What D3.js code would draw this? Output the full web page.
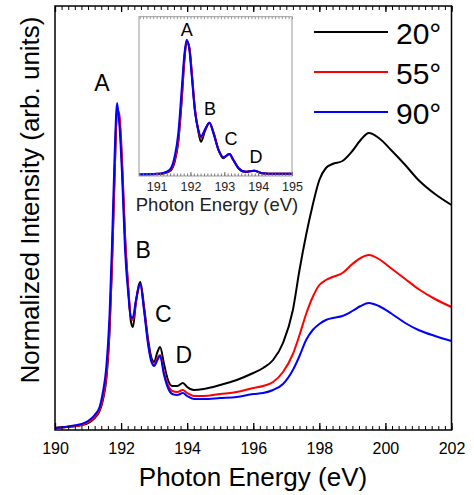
<!DOCTYPE html>
<html><head><meta charset="utf-8">
<script src="https://cdn.jsdelivr.net/npm/d3@7"></script>
<style>
html,body{margin:0;padding:0;background:#fff;}
svg{display:block;font-family:"Liberation Sans",Arial,sans-serif;}
</style></head><body>
<svg id="c" width="474" height="495"></svg>
<script>
// ---------- data ----------
const energy = [190.0,190.5,190.8,191.0,191.2,191.35,191.45,191.55,191.65,191.72,191.8,191.88,191.95,192.03,192.12,192.22,192.3,192.36,192.45,192.58,192.7,192.82,192.92,193.0,193.1,193.18,193.3,193.42,193.55,193.7,193.87,194.0,194.2,194.5,195.0,195.5,196.0,196.3,196.6,196.9,197.2,197.4,197.6,197.8,198.0,198.2,198.4,198.7,199.0,199.25,199.5,199.8,200.2,200.6,201.0,201.5,202.0];
const deg20 = [0.02,0.035,0.05,0.07,0.12,0.19,0.30,0.50,0.98,1.6,2.5,3.2,3.1,2.65,1.92,1.40,1.08,1.03,1.28,1.48,1.22,0.90,0.72,0.68,0.78,0.83,0.66,0.50,0.44,0.44,0.47,0.43,0.40,0.41,0.45,0.50,0.57,0.62,0.70,0.87,1.20,1.60,1.95,2.25,2.50,2.62,2.66,2.69,2.79,2.90,2.97,2.92,2.79,2.65,2.50,2.36,2.25];
const deg55 = [0.02,0.035,0.05,0.075,0.13,0.20,0.32,0.52,1.0,1.6,2.5,3.2,3.15,2.7,1.95,1.42,1.12,1.10,1.28,1.46,1.20,0.87,0.69,0.65,0.72,0.75,0.57,0.45,0.39,0.38,0.40,0.37,0.34,0.34,0.36,0.38,0.42,0.44,0.48,0.58,0.76,0.95,1.16,1.33,1.45,1.50,1.53,1.57,1.66,1.72,1.75,1.71,1.61,1.51,1.41,1.31,1.23];
const deg90 = [0.02,0.04,0.06,0.09,0.15,0.23,0.38,0.62,1.15,1.8,2.7,3.27,3.05,2.55,1.8,1.35,1.12,1.13,1.30,1.46,1.18,0.85,0.68,0.64,0.70,0.74,0.55,0.42,0.36,0.35,0.37,0.34,0.31,0.31,0.32,0.33,0.36,0.37,0.40,0.46,0.60,0.74,0.90,1.00,1.06,1.10,1.12,1.14,1.19,1.24,1.27,1.24,1.16,1.07,1.00,0.94,0.89];

const insetEnergy = [190.48,191.0,191.2,191.39,191.54,191.64,191.74,191.82,191.89,191.97,192.04,192.13,192.23,192.31,192.43,192.56,192.68,192.83,192.97,193.15,193.27,193.42,193.62,193.88,194.11,194.5,195.0];
const inset20 = [0,0.003,0.008,0.024,0.10,0.24,0.54,0.84,0.98,0.93,0.74,0.48,0.32,0.24,0.32,0.38,0.31,0.18,0.12,0.15,0.105,0.046,0.02,0.028,0.01,0.005,0.005];
const inset55 = [0,0.004,0.01,0.028,0.11,0.25,0.55,0.84,0.98,0.93,0.75,0.49,0.33,0.27,0.33,0.38,0.31,0.18,0.125,0.15,0.105,0.046,0.02,0.028,0.01,0.005,0.005];
const inset90 = [0,0.005,0.012,0.035,0.14,0.30,0.62,0.88,0.99,0.91,0.72,0.47,0.33,0.28,0.33,0.38,0.30,0.18,0.126,0.15,0.106,0.046,0.02,0.028,0.01,0.005,0.005];

const seriesNames = ["20°","55°","90°"];
const seriesColors = ["#000000","#ff0000","#0000ff"];
const xTicks = [190,192,194,196,198,200,202];
const insetTicks = [191,192,193,194,195];
const peakLabels = ["A","B","C","D"];
const peakLabelPos = [[191.42,3.39],[192.67,1.72],[193.28,1.08],[193.9,0.67]];
const insetLabelPos = [[191.89,1.02],[192.58,0.44],[193.2,0.22],[193.94,0.082]];

// ---------- main ----------
const svg = d3.select("#c");
const W = {l:55,r:451.5,t:6,b:430};
const x = d3.scaleLinear().domain([190,202]).range([W.l,W.r]);
const y = d3.scaleLinear().domain([0,4.24]).range([W.b,W.t]);

const line = d3.line().x(d=>x(d[0])).y(d=>y(d[1])).curve(d3.curveMonotoneX);
const mainSets = [deg20,deg55,deg90];
mainSets.forEach((s,i)=>{
  svg.append("path").datum(energy.map((e,j)=>[e,s[j]]))
    .attr("d",line).attr("fill","none").attr("stroke",seriesColors[i])
    .attr("stroke-width",2).attr("stroke-linejoin","round");
});

// frame
svg.append("rect").attr("x",W.l).attr("y",W.t).attr("width",W.r-W.l).attr("height",W.b-W.t)
  .attr("fill","none").attr("stroke","#000").attr("stroke-width",1.5);

const minor = d3.range(190,202.001,0.2);
const bAx = d3.axisBottom(x).tickValues(xTicks).tickSize(-7).tickPadding(13).tickFormat(d3.format("d"));
const gB = svg.append("g").attr("transform",`translate(0,${W.b})`).call(bAx);
gB.select(".domain").remove();
gB.selectAll("line").attr("stroke","#000").attr("stroke-width",1.3);
gB.selectAll("text").attr("font-size",16).attr("fill","#000").attr("font-family","Liberation Sans, Arial, sans-serif");
const gBm = svg.append("g").attr("transform",`translate(0,${W.b})`)
  .call(d3.axisBottom(x).tickValues(minor).tickSize(-4).tickFormat(""));
gBm.select(".domain").remove();
gBm.selectAll("line").attr("stroke","#000").attr("stroke-width",1);
const gT = svg.append("g").attr("transform",`translate(0,${W.t})`)
  .call(d3.axisTop(x).tickValues(xTicks).tickSize(-6).tickFormat(""));
gT.select(".domain").remove();
gT.selectAll("line").attr("stroke","#000").attr("stroke-width",1.3);
const gTm = svg.append("g").attr("transform",`translate(0,${W.t})`)
  .call(d3.axisTop(x).tickValues(minor).tickSize(-4).tickFormat(""));
gTm.select(".domain").remove();
gTm.selectAll("line").attr("stroke","#000").attr("stroke-width",1);

// axis titles
svg.append("text").attr("x",253).attr("y",486).attr("text-anchor","middle")
  .attr("font-size",26).attr("fill","#000").text("Photon Energy (eV)");
svg.append("text").attr("transform","translate(38.5,200) rotate(-90)").attr("text-anchor","middle")
  .attr("font-size",26).attr("fill","#000").text("Normalized Intensity (arb. units)");

// peak labels
peakLabels.forEach((t,i)=>{
  svg.append("text").attr("x",x(peakLabelPos[i][0])).attr("y",y(peakLabelPos[i][1]))
    .attr("text-anchor","middle").attr("font-size",23).attr("fill","#000").text(t);
});

// legend
seriesNames.forEach((n,i)=>{
  const ly = 32 + i*40;
  svg.append("line").attr("x1",314).attr("x2",388).attr("y1",ly).attr("y2",ly)
    .attr("stroke",seriesColors[i]).attr("stroke-width",2);
  svg.append("text").attr("x",396).attr("y",ly+12).attr("font-size",30).attr("fill","#000").text(n);
});

// ---------- inset ----------
const I = {l:139,r:292,t:16.7,b:176};
const xi = d3.scaleLinear().domain([190.48,195]).range([I.l,I.r]);
const yi = d3.scaleLinear().domain([-0.011,1.159]).range([I.b,I.t]);
svg.append("rect").attr("x",I.l).attr("y",I.t).attr("width",I.r-I.l).attr("height",I.b-I.t)
  .attr("fill","#fff").attr("stroke","none");
const linei = d3.line().x(d=>xi(d[0])).y(d=>yi(d[1])).curve(d3.curveMonotoneX);
[inset20,inset55,inset90].forEach((s,i)=>{
  svg.append("path").datum(insetEnergy.map((e,j)=>[e,s[j]]))
    .attr("d",linei).attr("fill","none").attr("stroke",seriesColors[i])
    .attr("stroke-width",2).attr("stroke-linejoin","round");
});
svg.append("rect").attr("x",I.l).attr("y",I.t).attr("width",I.r-I.l).attr("height",I.b-I.t)
  .attr("fill","none").attr("stroke","#999").attr("stroke-width",1);
const iminor = d3.range(190.5,195.001,0.1);
const gI = svg.append("g").attr("transform",`translate(0,${I.b})`)
  .call(d3.axisBottom(xi).tickValues(insetTicks).tickSize(-4).tickPadding(6).tickFormat(d3.format("d")));
gI.select(".domain").remove();
gI.selectAll("line").attr("stroke","#777");
gI.selectAll("text").attr("font-size",12.5).attr("fill","#222").attr("font-family","Liberation Sans, Arial, sans-serif");
const gIm = svg.append("g").attr("transform",`translate(0,${I.b})`)
  .call(d3.axisBottom(xi).tickValues(iminor).tickSize(-2.5).tickFormat(""));
gIm.select(".domain").remove();
gIm.selectAll("line").attr("stroke","#777");
const gIt = svg.append("g").attr("transform",`translate(0,${I.t})`)
  .call(d3.axisTop(xi).tickValues(iminor).tickSize(-2.5).tickFormat(""));
gIt.select(".domain").remove();
gIt.selectAll("line").attr("stroke","#999");
svg.append("text").attr("x",217).attr("y",211).attr("text-anchor","middle")
  .attr("font-size",18.5).attr("fill","#222").text("Photon Energy (eV)");
peakLabels.forEach((t,i)=>{
  svg.append("text").attr("x",xi(insetLabelPos[i][0])).attr("y",yi(insetLabelPos[i][1]))
    .attr("text-anchor","middle").attr("font-size",18).attr("fill","#000").text(t);
});
</script>
</body></html>
